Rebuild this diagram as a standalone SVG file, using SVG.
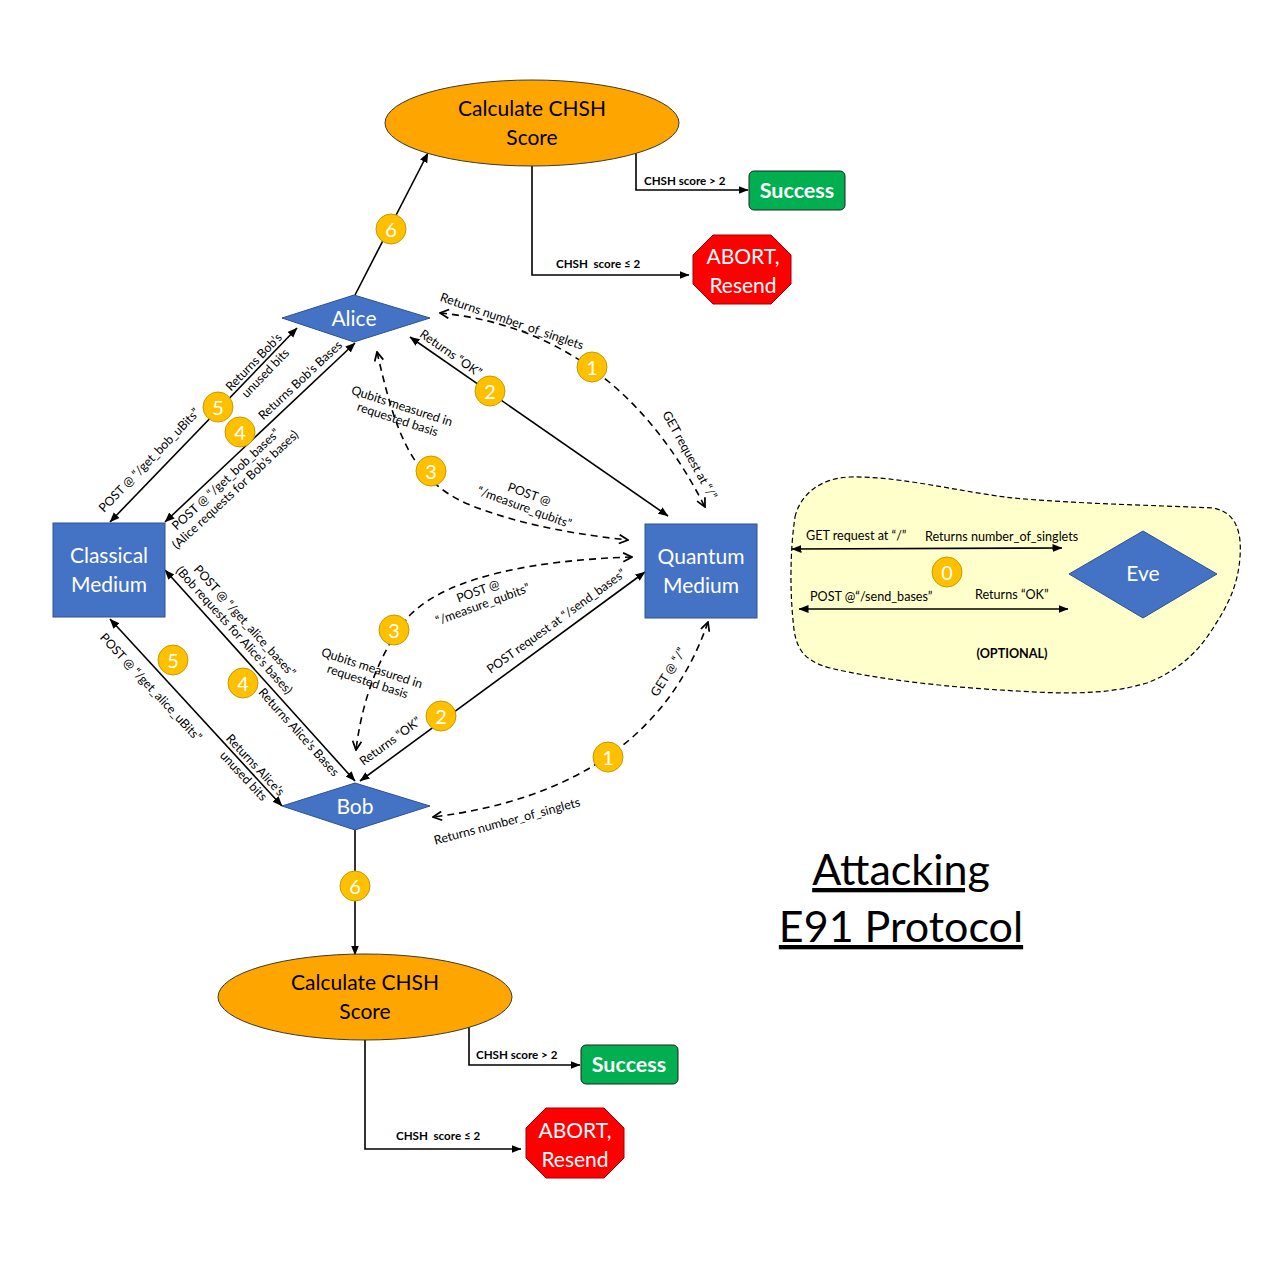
<svg xmlns="http://www.w3.org/2000/svg" width="1280" height="1280" viewBox="0 0 1280 1280">
<style>
.bg{fill:#fff}
.blue{fill:#4472C4;stroke:#2F528F;stroke-width:1}
.ntxt{font-family:Lato,"Liberation Sans",sans-serif;fill:#fff;font-size:21px;text-anchor:middle}
.otxt{font-family:Lato,"Liberation Sans",sans-serif;fill:#000;font-size:21px;text-anchor:middle}
.ell{fill:#FFA500;stroke:#3a3a3a;stroke-width:1}
.succ{fill:#00B050;stroke:#222;stroke-width:1}
.stxt{font-family:Lato,"Liberation Sans",sans-serif;fill:#fff;font-size:21.5px;font-weight:bold;text-anchor:middle}
.abort{fill:#FF0000;stroke:#A00000;stroke-width:1}
.badge{fill:#FFC000;stroke:#C59A00;stroke-width:1}
.btxt{font-family:Lato,"Liberation Sans",sans-serif;fill:#fff;font-size:20px;text-anchor:middle;dominant-baseline:central}
.ln{fill:none;stroke:#000;stroke-width:1.6}
.dl{fill:none;stroke:#000;stroke-width:1.6;stroke-dasharray:7,5}
.lbl{font-family:Lato,"Liberation Sans",sans-serif;fill:#000;font-size:12.4px;text-anchor:middle;dominant-baseline:central}
.sl{font-family:Lato,"Liberation Sans",sans-serif;fill:#000;font-size:11.6px;font-weight:bold}
.eve{font-family:Lato,"Liberation Sans",sans-serif;fill:#000;font-size:12.6px}
</style>
<defs>
<marker id="ah" viewBox="0 0 10 10" refX="9.5" refY="5" markerWidth="10" markerHeight="10" markerUnits="userSpaceOnUse" orient="auto-start-reverse"><path d="M0,1 L10,5 L0,9 z" fill="#000"/></marker>
<marker id="oh" viewBox="0 0 10 10" refX="9" refY="5" markerWidth="11" markerHeight="11" markerUnits="userSpaceOnUse" orient="auto-start-reverse"><path d="M1,1 L9,5 L1,9" fill="none" stroke="#000" stroke-width="1.6"/></marker>
</defs>
<rect class="bg" x="0" y="0" width="1280" height="1280"/>

<!-- Eve region -->
<g id="eve-region">
<path d="M795,517 C800,495 820,478 850,477 C900,476 960,492 1013,498 C1080,504 1150,505 1213,508 C1235,512 1242,530 1240,557 C1238,585 1228,605 1215,625 C1200,650 1180,670 1147,683 C1100,697 1050,693 1000,690 C950,687 880,680 830,668 C800,660 795,645 793,620 C790,590 790,550 795,517 Z" fill="#FFFFCC" stroke="#000" stroke-width="1.2" stroke-dasharray="5,3"/>
</g>

<g id="connectors">
<!-- top CHSH -->
<path class="ln" d="M355,295 L428,153" marker-end="url(#ah)"/>
<path class="ln" d="M636,153 L636,190 L748,190" marker-end="url(#ah)"/>
<path class="ln" d="M532,166 L532,275 L689,275" marker-end="url(#ah)"/>
<text class="sl" x="644" y="185">CHSH score &gt; 2</text>
<text class="sl" x="556" y="268" xml:space="preserve">CHSH  score ≤ 2</text>
<!-- bottom CHSH -->
<path class="ln" d="M355,830 L355,955" marker-end="url(#ah)"/>
<path class="ln" d="M469,1026 L469,1065 L580,1065" marker-end="url(#ah)"/>
<path class="ln" d="M365,1040 L365,1149 L521,1149" marker-end="url(#ah)"/>
<text class="sl" x="476" y="1059">CHSH score &gt; 2</text>
<text class="sl" x="396" y="1140" xml:space="preserve">CHSH  score ≤ 2</text>

<!-- Alice <-> Classical -->
<path class="ln" d="M110,522 L297,328" marker-start="url(#ah)" marker-end="url(#ah)"/>
<path class="ln" d="M165,522 L355,343" marker-start="url(#ah)" marker-end="url(#ah)"/>
<!-- Classical <-> Bob -->
<path class="ln" d="M110,619 L282,806" marker-start="url(#ah)" marker-end="url(#ah)"/>
<path class="ln" d="M165,570 L355,781" marker-start="url(#ah)" marker-end="url(#ah)"/>
<!-- Alice <-> Quantum -->
<path class="ln" d="M410,337 L668,516" marker-start="url(#ah)" marker-end="url(#ah)"/>
<path class="dl" d="M440,313 Q615,330 705,507" marker-start="url(#oh)" marker-end="url(#oh)"/>
<path class="dl" d="M377,352 C395,430 410,480 470,505 C520,525 580,535 628,540" marker-start="url(#oh)" marker-end="url(#oh)"/>
<!-- Bob <-> Quantum -->
<path class="ln" d="M360,781 L645,572" marker-start="url(#ah)" marker-end="url(#ah)"/>
<path class="dl" d="M632,557 C540,560 450,575 410,615 C380,650 362,700 356,750" marker-start="url(#oh)" marker-end="url(#oh)"/>
<path class="dl" d="M708,622 Q650,790 433,817" marker-start="url(#oh)" marker-end="url(#oh)"/>
<!-- Eve arrows -->
<path class="ln" d="M792,549 L1062,548" marker-start="url(#ah)" marker-end="url(#ah)"/>
<path class="ln" d="M799,609 L1068,609" marker-start="url(#ah)" marker-end="url(#ah)"/>

<!-- labels -->
<g transform="translate(149,460) rotate(-46)"><text class="lbl">POST @ “/get_bob_uBits”</text></g>
<g transform="translate(259,367) rotate(-46)"><text class="lbl"><tspan x="0" y="-8">Returns Bob’s</tspan><tspan x="0" y="8">unused bits</tspan></text></g>
<g transform="translate(300,380) rotate(-43)"><text class="lbl">Returns Bob’s Bases</text></g>
<g transform="translate(230,484) rotate(-43)"><text class="lbl"><tspan x="0" y="-7">POST @ “/get_bob_bases”</tspan><tspan x="0" y="7">(Alice requests for Bob’s bases)</tspan></text></g>
<g transform="translate(151,687) rotate(47)"><text class="lbl">POST @ “/get_alice_uBits”</text></g>
<g transform="translate(250,770) rotate(47)"><text class="lbl"><tspan x="0" y="-8">Returns Alice’s</tspan><tspan x="0" y="8">unused bits</tspan></text></g>
<g transform="translate(240,625) rotate(48)"><text class="lbl"><tspan x="0" y="-7">POST @ “/get_alice_bases”</tspan><tspan x="0" y="7">(Bob requests for Alice’s bases)</tspan></text></g>
<g transform="translate(299,732) rotate(48)"><text class="lbl">Returns Alice’s Bases</text></g>
<g transform="translate(451,353) rotate(35)"><text class="lbl">Returns “OK”</text></g>
<g transform="translate(512,321) rotate(19)"><text class="lbl">Returns number_of_singlets</text></g>
<g transform="translate(690,455) rotate(61)"><text class="lbl">GET request at “/”</text></g>
<g transform="translate(400,412) rotate(18)"><text class="lbl"><tspan x="0" y="-7">Qubits measured in</tspan><tspan x="0" y="7">requested basis</tspan></text></g>
<g transform="translate(527,500) rotate(20)"><text class="lbl"><tspan x="0" y="-7">POST @</tspan><tspan x="0" y="7">“/measure_qubits”</tspan></text></g>
<g transform="translate(556,621) rotate(-36)"><text class="lbl">POST request at “/send_bases”</text></g>
<g transform="translate(390,741) rotate(-36)"><text class="lbl">Returns “OK”</text></g>
<g transform="translate(480,597) rotate(-20)"><text class="lbl"><tspan x="0" y="-7">POST @</tspan><tspan x="0" y="7">“/measure_qubits”</tspan></text></g>
<g transform="translate(370,674) rotate(18)"><text class="lbl"><tspan x="0" y="-7">Qubits measured in</tspan><tspan x="0" y="7">requested basis</tspan></text></g>
<g transform="translate(668,672) rotate(-58)"><text class="lbl">GET @ “/”</text></g>
<g transform="translate(507,821) rotate(-15)"><text class="lbl">Returns number_of_singlets</text></g>
<text class="eve" x="806" y="540">GET request at “/”</text>
<text class="eve" x="925" y="541">Returns number_of_singlets</text>
<text class="eve" x="810" y="601">POST @“/send_bases”</text>
<text class="eve" x="975" y="599">Returns “OK”</text>
<text class="eve" x="1012" y="658" text-anchor="middle" font-weight="bold" font-size="13">(OPTIONAL)</text>
</g>

<!-- nodes -->
<g id="chsh-top"><ellipse class="ell" cx="532" cy="123" rx="147" ry="43"/><text class="otxt" x="532" y="116">Calculate CHSH</text><text class="otxt" x="532" y="145">Score</text></g>
<g id="success-top"><rect class="succ" x="749" y="171" width="96" height="39" rx="5"/><text class="stxt" x="797" y="198">Success</text></g>
<g id="abort-top"><polygon class="abort" points="713,235 771,235 791,255 791,284 771,304 713,304 693,284 693,255"/><text class="ntxt" x="743" y="264">ABORT,</text><text class="ntxt" x="743" y="293">Resend</text></g>
<g id="alice"><polygon class="blue" points="282,318 354,295 430,318 354,342"/><text class="ntxt" x="354" y="326">Alice</text></g>
<g id="classical"><rect class="blue" x="53" y="523" width="112" height="94"/><text class="ntxt" x="109" y="563">Classical</text><text class="ntxt" x="109" y="592">Medium</text></g>
<g id="quantum"><rect class="blue" x="645" y="524" width="112" height="94"/><text class="ntxt" x="701" y="564">Quantum</text><text class="ntxt" x="701" y="593">Medium</text></g>
<g id="bob"><polygon class="blue" points="282,806 355,783 430,806 355,830"/><text class="ntxt" x="355" y="814">Bob</text></g>
<g id="eve"><polygon class="blue" points="1069,574 1143,531 1217,574 1143,618"/><text class="ntxt" x="1143" y="581">Eve</text></g>
<g id="chsh-bottom"><ellipse class="ell" cx="365" cy="997" rx="147" ry="43"/><text class="otxt" x="365" y="990">Calculate CHSH</text><text class="otxt" x="365" y="1019">Score</text></g>
<g id="success-bottom"><rect class="succ" x="581" y="1045" width="97" height="39" rx="5"/><text class="stxt" x="629" y="1072">Success</text></g>
<g id="abort-bottom"><polygon class="abort" points="546,1108 604,1108 624,1128 624,1158 604,1178 546,1178 526,1158 526,1128"/><text class="ntxt" x="575" y="1138">ABORT,</text><text class="ntxt" x="575" y="1167">Resend</text></g>

<!-- badges -->
<g id="badges">
<circle class="badge" cx="391" cy="229" r="15"/><text class="btxt" x="391" y="229">6</text>
<circle class="badge" cx="218" cy="407" r="15"/><text class="btxt" x="218" y="407">5</text>
<circle class="badge" cx="240" cy="432" r="15"/><text class="btxt" x="240" y="432">4</text>
<circle class="badge" cx="592" cy="367" r="15"/><text class="btxt" x="592" y="367">1</text>
<circle class="badge" cx="490" cy="391" r="15"/><text class="btxt" x="490" y="391">2</text>
<circle class="badge" cx="431" cy="471" r="15"/><text class="btxt" x="431" y="471">3</text>
<circle class="badge" cx="394" cy="630" r="15"/><text class="btxt" x="394" y="630">3</text>
<circle class="badge" cx="173" cy="660" r="15"/><text class="btxt" x="173" y="660">5</text>
<circle class="badge" cx="243" cy="683" r="15"/><text class="btxt" x="243" y="683">4</text>
<circle class="badge" cx="441" cy="716" r="15"/><text class="btxt" x="441" y="716">2</text>
<circle class="badge" cx="608" cy="757" r="15"/><text class="btxt" x="608" y="757">1</text>
<circle class="badge" cx="355" cy="886" r="15"/><text class="btxt" x="355" y="886">6</text>
<circle class="badge" cx="947" cy="572" r="15"/><text class="btxt" x="947" y="572">0</text>
</g>

<g id="title">
<text x="901" y="885" font-family="Lato,'Liberation Sans',sans-serif" font-size="43" text-anchor="middle" text-decoration="underline">Attacking</text>
<text x="901" y="942" font-family="Lato,'Liberation Sans',sans-serif" font-size="43" text-anchor="middle" text-decoration="underline">E91 Protocol</text>
</g>
</svg>
